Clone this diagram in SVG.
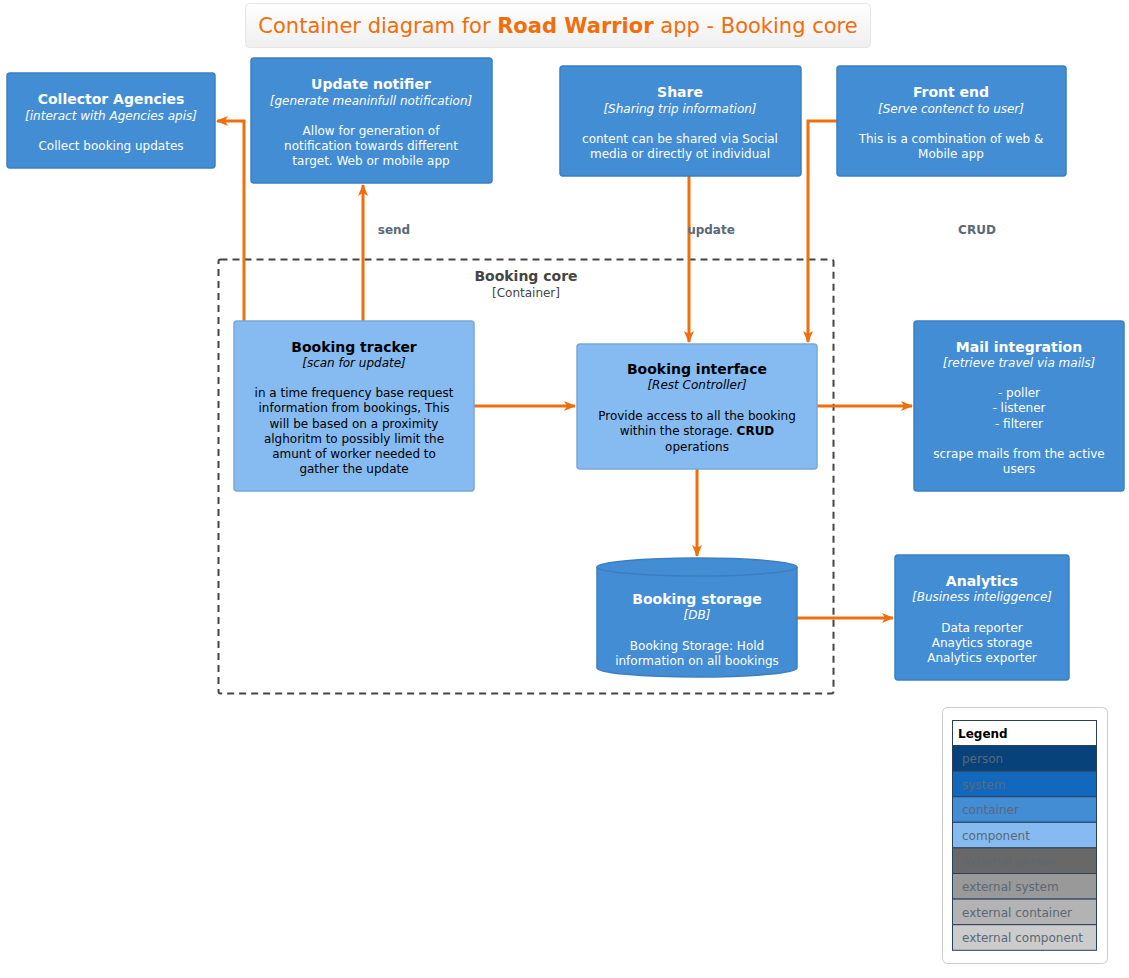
<svg xmlns="http://www.w3.org/2000/svg" width="1129" height="978" viewBox="0 0 1129 978">
<defs>
<linearGradient id="tg" x1="0" y1="0" x2="0" y2="1"><stop offset="0" stop-color="#ffffff"/><stop offset="1" stop-color="#efefef"/></linearGradient>
<marker id="ah" markerWidth="12" markerHeight="10" refX="11" refY="5" orient="auto" markerUnits="userSpaceOnUse"><path d="M0,0 L12,5 L0,10 L3,5 z" fill="#F06E0B"/></marker>
</defs>
<style>
text{font-family:"DejaVu Sans","Verdana",sans-serif;text-anchor:middle}
.c{fill:#438DD5;stroke:#3C7FC0;stroke-width:1.5}
.k{fill:#85BBF0;stroke:#78A8D8;stroke-width:1.5}
.t{font-size:14px;font-weight:bold;fill:#fff}
.i{font-size:12px;font-style:italic;fill:#fff}
.d{font-size:12px;fill:#fff}
.kt{font-size:14px;font-weight:bold;fill:#000}
.ki{font-size:12px;font-style:italic;fill:#000}
.kd{font-size:12px;fill:#000}
.e{fill:none;stroke:#F06E0B;stroke-width:3;marker-end:url(#ah)}
.lb{font-size:12px;font-weight:bold;fill:#5B6876}
.lg{font-size:12px;fill:#5B6876;text-anchor:start}
</style>
<g id="title">
<rect x="245.5" y="3.5" width="625" height="44" rx="4" fill="url(#tg)" stroke="#e6e6e6"/>
<text x="558" y="33" font-size="21" fill="#F06E0B">Container diagram for <tspan font-weight="bold">Road Warrior</tspan> app - Booking core</text>
</g>
<g id="boundary">
<rect x="218.5" y="259.5" width="615" height="434" rx="2" fill="none" stroke="#444" stroke-width="2" stroke-dasharray="7,5"/>
<text x="526" y="281" font-size="14" font-weight="bold" fill="#444">Booking core</text>
<text x="526" y="297" font-size="12" fill="#444">[Container]</text>
</g>
<g id="connectors">
<path class="e" d="M244,321 V121 H217"/>
<path class="e" d="M363,321 V185"/>
<text class="lb" x="394" y="234">send</text>
<path class="e" d="M689,176 V342"/>
<text class="lb" x="711" y="234">update</text>
<path class="e" d="M837,121 H808 V342"/>
<text class="lb" x="977" y="234">CRUD</text>
<path class="e" d="M474,406 H575"/>
<path class="e" d="M817,406 H912"/>
<path class="e" d="M697,469 V556"/>
<path class="e" d="M797,618 H893"/>
</g>
<g id="collector-agencies">
<rect class="c" x="7" y="73" width="208" height="95" rx="3"/>
<text class="t" x="111" y="104">Collector Agencies</text>
<text class="i" x="111" y="120">[interact with Agencies apis]</text>
<text class="d" x="111" y="150">Collect booking updates</text>
</g>
<g id="update-notifier">
<rect class="c" x="251" y="58" width="241" height="125" rx="3"/>
<text class="t" x="371" y="89">Update notifier</text>
<text class="i" x="371" y="105">[generate meaninfull notification]</text>
<text class="d" x="371" y="135">Allow for generation of</text>
<text class="d" x="371" y="150">notification towards different</text>
<text class="d" x="371" y="165">target. Web or mobile app</text>
</g>
<g id="share">
<rect class="c" x="560" y="66" width="241" height="110" rx="3"/>
<text class="t" x="680" y="97">Share</text>
<text class="i" x="680" y="113">[Sharing trip information]</text>
<text class="d" x="680" y="143">content can be shared via Social</text>
<text class="d" x="680" y="158">media or directly ot individual</text>
</g>
<g id="front-end">
<rect class="c" x="837" y="66" width="229" height="110" rx="3"/>
<text class="t" x="951" y="97">Front end</text>
<text class="i" x="951" y="113">[Serve contenct to user]</text>
<text class="d" x="951" y="143">This is a combination of web &amp;</text>
<text class="d" x="951" y="158">Mobile app</text>
</g>
<g id="booking-tracker">
<rect class="k" x="234" y="321" width="240" height="170" rx="3"/>
<text class="kt" x="354" y="352">Booking tracker</text>
<text class="ki" x="354" y="367">[scan for update]</text>
<text class="kd" x="354" y="397">in a time frequency base request</text>
<text class="kd" x="354" y="412">information from bookings, This</text>
<text class="kd" x="354" y="428">will be based on a proximity</text>
<text class="kd" x="354" y="443">alghoritm to possibly limit the</text>
<text class="kd" x="354" y="458">amunt of worker needed to</text>
<text class="kd" x="354" y="473">gather the update</text>
</g>
<g id="booking-interface">
<rect class="k" x="577" y="344" width="240" height="125" rx="3"/>
<text class="kt" x="697" y="374">Booking interface</text>
<text class="ki" x="697" y="389">[Rest Controller]</text>
<text class="kd" x="697" y="420">Provide access to all the booking</text>
<text class="kd" x="697" y="435">within the storage. <tspan font-weight="bold">CRUD</tspan></text>
<text class="kd" x="697" y="451">operations</text>
</g>
<g id="booking-storage">
<path class="c" d="M597,567 A100,9 0 0 1 797,567 V668 A100,9 0 0 1 597,668 Z"/>
<path d="M597,567 A100,9 0 0 0 797,567" fill="none" stroke="#3C7FC0" stroke-width="1.5"/>
<text class="t" x="697" y="604">Booking storage</text>
<text class="i" x="697" y="619">[DB]</text>
<text class="d" x="697" y="650">Booking Storage: Hold</text>
<text class="d" x="697" y="665">information on all bookings</text>
</g>
<g id="mail-integration">
<rect class="c" x="914" y="321" width="210" height="170" rx="3"/>
<text class="t" x="1019" y="352">Mail integration</text>
<text class="i" x="1019" y="367">[retrieve travel via mails]</text>
<text class="d" x="1019" y="397">- poller</text>
<text class="d" x="1019" y="412">- listener</text>
<text class="d" x="1019" y="428">- filterer</text>
<text class="d" x="1019" y="458">scrape mails from the active</text>
<text class="d" x="1019" y="473">users</text>
</g>
<g id="analytics">
<rect class="c" x="895" y="555" width="174" height="125" rx="3"/>
<text class="t" x="982" y="586">Analytics</text>
<text class="i" x="982" y="601">[Business inteliggence]</text>
<text class="d" x="982" y="632">Data reporter</text>
<text class="d" x="982" y="647">Anaytics storage</text>
<text class="d" x="982" y="662">Analytics exporter</text>
</g>
<g id="legend">
<rect x="942.5" y="707.5" width="165" height="256" rx="5" fill="#fff" stroke="#cccccc"/>
<rect x="952.5" y="720.5" width="144" height="25" fill="#fff" stroke="#2b3f5a"/>
<rect x="952.5" y="745.5" width="144" height="25.6" fill="#08427B" stroke="#2b3f5a"/>
<rect x="952.5" y="771.1" width="144" height="25.6" fill="#1168BD" stroke="#2b3f5a"/>
<rect x="952.5" y="796.7" width="144" height="25.6" fill="#438DD5" stroke="#2b3f5a"/>
<rect x="952.5" y="822.3" width="144" height="25.6" fill="#85BBF0" stroke="#2b3f5a"/>
<rect x="952.5" y="847.9" width="144" height="25.6" fill="#686868" stroke="#2b3f5a"/>
<rect x="952.5" y="873.5" width="144" height="25.6" fill="#999999" stroke="#2b3f5a"/>
<rect x="952.5" y="899.1" width="144" height="25.6" fill="#B3B3B3" stroke="#2b3f5a"/>
<rect x="952.5" y="924.7" width="144" height="25.6" fill="#CCCCCC" stroke="#2b3f5a"/>
<text x="958" y="738" font-size="12" font-weight="bold" fill="#000" style="text-anchor:start">Legend</text>
<text class="lg" x="962" y="763">person</text>
<text class="lg" x="962" y="789">system</text>
<text class="lg" x="962" y="814">container</text>
<text class="lg" x="962" y="840">component</text>
<text class="lg" x="962" y="866">external person</text>
<text class="lg" x="962" y="891">external system</text>
<text class="lg" x="962" y="917">external container</text>
<text class="lg" x="962" y="942">external component</text>
</g>
</svg>
